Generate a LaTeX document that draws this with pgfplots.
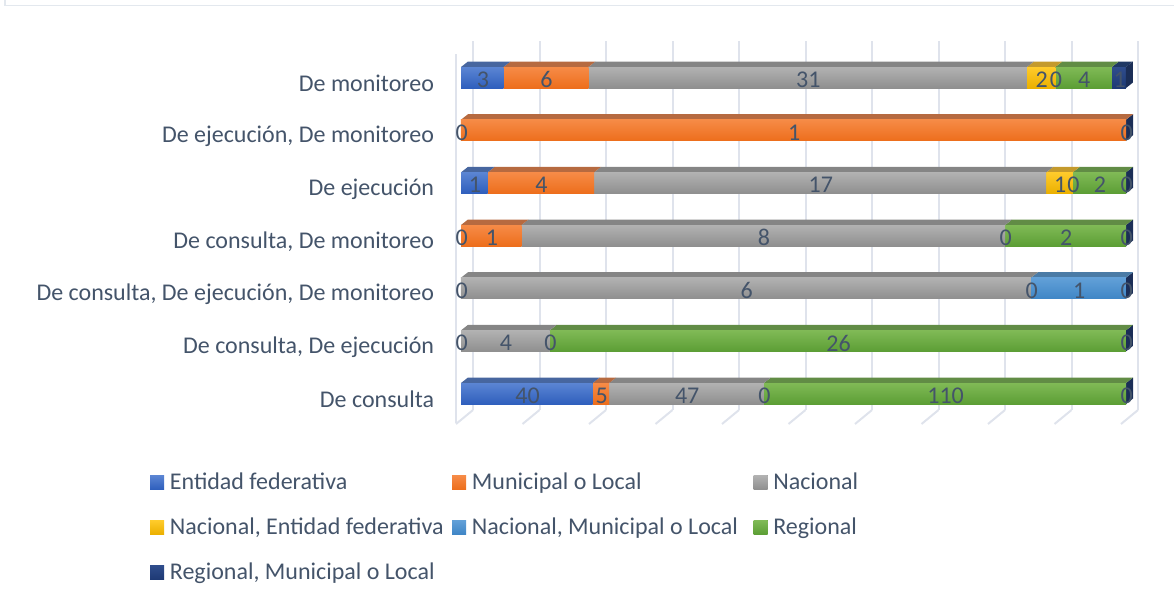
\documentclass[border=0pt]{standalone}
\usepackage{fontspec}
\setmainfont{Carlito}
\usepackage{pgfplots}
\usepackage{pgfplotstable}
\pgfplotsset{compat=1.18}

\definecolor{txt}{HTML}{44546A}
\definecolor{gridc}{HTML}{DFE3EC}
\definecolor{framec}{HTML}{E3E8EE}
% front top / front bottom / top face
\definecolor{entF}{HTML}{5B85D3}\definecolor{entB}{HTML}{2F5FBD}\definecolor{entT}{HTML}{47669F}
\definecolor{munF}{HTML}{F68B47}\definecolor{munB}{HTML}{ED6E1C}\definecolor{munT}{HTML}{B66A40}
\definecolor{nacF}{HTML}{B2B2B2}\definecolor{nacB}{HTML}{8F8F8F}\definecolor{nacT}{HTML}{858585}
\definecolor{neF}{HTML}{FFCB2B}\definecolor{neB}{HTML}{EBB000}\definecolor{neT}{HTML}{C49A2C}
\definecolor{nmF}{HTML}{62A0D8}\definecolor{nmB}{HTML}{3F86C6}\definecolor{nmT}{HTML}{4A7BA6}
\definecolor{regF}{HTML}{80BA56}\definecolor{regB}{HTML}{5C9E35}\definecolor{regT}{HTML}{618C45}
\definecolor{rmF}{HTML}{2F4D8C}\definecolor{rmB}{HTML}{1E3A75}\definecolor{rmT}{HTML}{1F3864}
\definecolor{capc}{HTML}{1B2E57}

% -1 = the category has no value for that series (no label)
\pgfplotstableread{
y Ent Mun Nac NE NM Reg RM tot
0 40 5 47 0 -1 110 0 202
1 0 -1 4 -1 0 26 0 30
2 0 -1 6 0 1 -1 0 7
3 0 1 8 0 -1 2 0 11
4 1 4 17 1 0 2 0 25
5 0 1 -1 -1 -1 -1 0 1
6 3 6 31 2 0 4 1 47
}\counts

\pgfdeclareplotmark{blank}{}

\newcommand\drawface[1]{%
  \ifdim\segw pt>0pt
    \fill[#1T] (-\segw pt,7.875pt) -- (0pt,7.875pt) -- (5.25pt,12pt) -- ([xshift=5.25pt]-\segw pt,12pt) -- cycle;
    \shade[top color=#1F,bottom color=#1B] (-\segw pt,-7.875pt) rectangle (0pt,7.875pt);
  \fi}
\newcommand\drawcap{%
  \fill[capc] (0pt,-7.875pt) -- (5.25pt,-3.75pt) -- (5.25pt,12pt) -- (0pt,7.875pt) -- cycle;}

\newcommand\barseries[4][]{%
  \addplot[fill=#3B,draw=none,mark=blank,scatter,
    point meta=\thisrow{#2},
    visualization depends on={rawx*4.9875 \as \segw},
    scatter/@pre marker code/.code={\drawface{#3}},
    scatter/@post marker code/.code={#1},
    legend image code/.code={\shade[top color=#3F,bottom color=#3B] (0pt,-5.25pt) rectangle (10.5pt,5.25pt);}]
    table[x expr={max(\thisrow{#2},0)/\thisrow{tot}*100},y=y]{\counts};
  \addlegendentry{#4}}

\newcommand\labelseries[1]{%
  \addplot[draw=none,fill=none,
    point meta=\thisrow{#1},
    visualization depends on={\thisrow{#1} \as \rawv},
    /pgf/number format/assume math mode=true,
    nodes near coords={\ifdim\rawv pt<0pt \else\pgfmathprintnumber[precision=0]{\rawv}\fi},
    nodes near coords align=center,
    every node near coord/.append style={font=\fontsize{18}{20}\selectfont,text=txt,anchor=center,inner sep=0pt,xshift=0.5pt,yshift=-1.75pt}]
    table[x expr={max(\thisrow{#1},0)/\thisrow{tot}*100},y=y]{\counts};}

\pgfplotsset{barframe/.style={
  at={(345.75pt,116.12pt)},anchor=south west,
  scale only axis,width=498.75pt,height=316pt,
  xbar stacked,stacked ignores zero=false,bar width=15.75pt,
  xmin=0,xmax=100,ymin=-1,ymax=7,clip=false,
  xtick=\empty,axis line style={draw=none},major tick length=0pt}}

\begin{document}
\begin{tikzpicture}[x=0.75pt,y=0.75pt]
\path[use as bounding box] (0,0) rectangle (1174,601);
\draw[framec,line width=1.3pt] (5,601) -- (5,595.5) -- (1174,595.5);

% back wall gridlines
\begin{axis}[
  at={(354.75pt,143.25pt)},anchor=south west,
  scale only axis,width=498.75pt,height=276.75pt,
  xmin=0,xmax=100,ymin=0,ymax=1,
  xtick={0,10,...,100},xticklabels={},ytick=\empty,
  xmajorgrids,major grid style={gridc,line width=1.5pt},
  axis line style={draw=none},major tick length=0pt]
\end{axis}
% floor and left wall
\foreach \i in {0,...,10}
  \draw[gridc,line width=1.5pt] (473+66.5*\i,191) -- (456+66.5*\i,177);
\draw[gridc,line width=1.5pt] (456,178) -- (456,547);

\begin{axis}[barframe,
  ytick={0,...,6},
  yticklabels={De consulta,{De consulta, De ejecución},{De consulta, De ejecución, De monitoreo},
    {De consulta, De monitoreo},De ejecución,{De ejecución, De monitoreo},De monitoreo},
  y tick label style={font=\fontsize{18}{20}\selectfont,text=txt,inner sep=0pt,xshift=-20pt,yshift=-4.5pt},
  legend columns=3,legend cell align=left,
  legend style={draw=none,fill=none,inner sep=0pt,font=\fontsize{18}{20}\selectfont,text=txt,
    at={(axis description cs:-0.4677,-0.0566)},anchor=north west,row sep=15.75pt,
    /tikz/every odd column/.append style={column sep=2.25pt},
    /tikz/column 2/.append style={column sep=4.5pt},
    /tikz/column 4/.append style={column sep=9.75pt}}]
\barseries{Ent}{ent}{Entidad federativa}
\barseries{Mun}{mun}{Municipal o Local}
\barseries{Nac}{nac}{Nacional}
\barseries{NE}{ne}{Nacional, Entidad federativa}
\barseries{NM}{nm}{Nacional, Municipal o Local}
\barseries{Reg}{reg}{Regional}
\barseries[\drawcap]{RM}{rm}{Regional, Municipal o Local}
\end{axis}

% data labels sit above every bar
\begin{axis}[barframe,ytick=\empty]
\labelseries{Ent}
\labelseries{Mun}
\labelseries{Nac}
\labelseries{NE}
\labelseries{NM}
\labelseries{Reg}
\labelseries{RM}
\end{axis}
\end{tikzpicture}
\end{document}
